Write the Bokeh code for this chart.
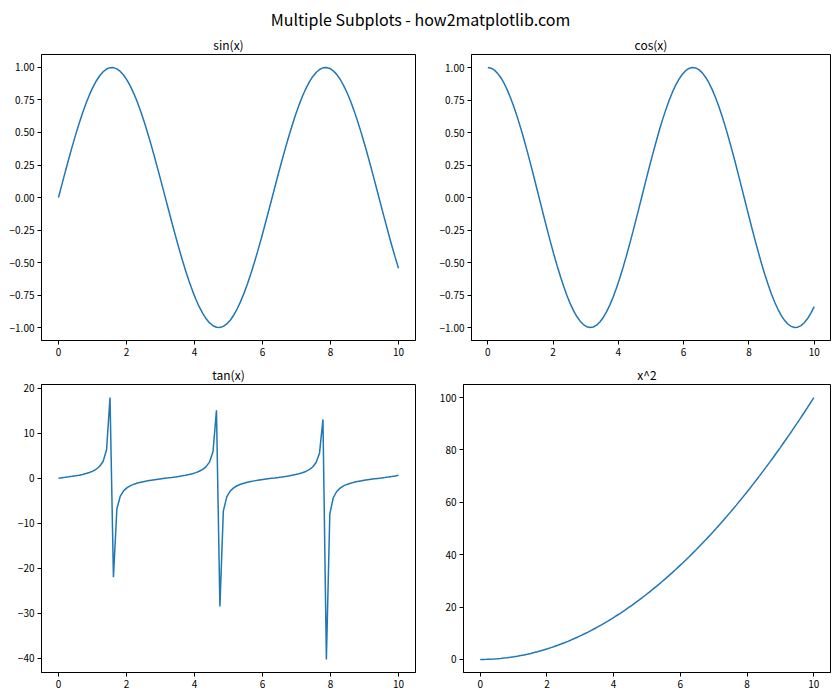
from bokeh.plotting import figure
from bokeh.layouts import column, row
from bokeh.models import FixedTicker, Range1d
from bokeh.embed import file_html
from bokeh.resources import INLINE

FONT = "Noto Sans CJK SC"
BLUE = "#1f77b4"

suptitle = "Multiple Subplots - how2matplotlib.com"
titles = ["sin(x)", "cos(x)", "tan(x)", "x^2"]

x = [0.000, 0.101, 0.202, 0.303, 0.404, 0.505, 0.606, 0.707, 0.808, 0.909,
     1.010, 1.111, 1.212, 1.313, 1.414, 1.515, 1.616, 1.717, 1.818, 1.919,
     2.020, 2.121, 2.222, 2.323, 2.424, 2.525, 2.626, 2.727, 2.828, 2.929,
     3.030, 3.131, 3.232, 3.333, 3.434, 3.535, 3.636, 3.737, 3.838, 3.939,
     4.040, 4.141, 4.242, 4.343, 4.444, 4.545, 4.646, 4.747, 4.848, 4.949,
     5.051, 5.152, 5.253, 5.354, 5.455, 5.556, 5.657, 5.758, 5.859, 5.960,
     6.061, 6.162, 6.263, 6.364, 6.465, 6.566, 6.667, 6.768, 6.869, 6.970,
     7.071, 7.172, 7.273, 7.374, 7.475, 7.576, 7.677, 7.778, 7.879, 7.980,
     8.081, 8.182, 8.283, 8.384, 8.485, 8.586, 8.687, 8.788, 8.889, 8.990,
     9.091, 9.192, 9.293, 9.394, 9.495, 9.596, 9.697, 9.798, 9.899, 10.000]

sin_y = [0.0, 0.1008, 0.2006, 0.2984, 0.3931, 0.4838, 0.5696, 0.6496, 0.7229, 0.7889,
         0.8468, 0.8961, 0.9363, 0.9670, 0.9878, 0.9985, 0.9990, 0.9893, 0.9696, 0.9400,
         0.9008, 0.8524, 0.7953, 0.7301, 0.6574, 0.5780, 0.4927, 0.4026, 0.3082, 0.2107,
         0.1111, 0.0103, -0.0906, -0.1906, -0.2886, -0.3837, -0.4749, -0.5611, -0.6417, -0.7158,
         -0.7827, -0.8414, -0.8915, -0.9325, -0.9643, -0.9862, -0.9978, -0.9994, -0.9909, -0.9720,
         -0.9434, -0.9050, -0.8573, -0.8007, -0.7370, -0.6643, -0.5860, -0.5018, -0.4123, -0.3185,
         -0.2207, -0.1213, -0.0206, 0.0804, 0.1805, 0.2787, 0.3741, 0.4657, 0.5525, 0.6338,
         0.7086, 0.7762, 0.8359, 0.8869, 0.9288, 0.9614, 0.9842, 0.9971, 0.9997, 0.9922,
         0.9746, 0.9468, 0.9094, 0.8627, 0.8072, 0.7442, 0.6720, 0.5943, 0.5106, 0.4217,
         0.3283, 0.2307, 0.1314, 0.0308, -0.0701, -0.1703, -0.2688, -0.3646, -0.4566, -0.5440]

cos_y = [1.0, 0.9949, 0.9797, 0.9544, 0.9195, 0.8752, 0.8219, 0.7603, 0.6909, 0.6145,
         0.5319, 0.4439, 0.3513, 0.2550, 0.1559, 0.0555, -0.0454, -0.1458, -0.2449, -0.3413,
         -0.4342, -0.5228, -0.6062, -0.6834, -0.7536, -0.8161, -0.8702, -0.9154, -0.9512, -0.9774,
         -0.9938, -0.9999, -0.9959, -0.9817, -0.9574, -0.9235, -0.8800, -0.8277, -0.7670, -0.6983,
         -0.6224, -0.5404, -0.4530, -0.3606, -0.2648, -0.1662, -0.0659, 0.0350, 0.1356, 0.2350,
         0.3316, 0.4253, 0.5149, 0.5991, 0.6759, 0.7474, 0.8103, 0.8650, 0.9111, 0.9479,
         0.9753, 0.9926, 0.9998, 0.9968, 0.9836, 0.9604, 0.9274, 0.8849, 0.8335, 0.7735,
         0.7056, 0.6305, 0.5489, 0.4620, 0.3706, 0.2748, 0.1763, 0.0761, -0.0248, -0.1254,
         -0.2249, -0.3218, -0.4158, -0.5057, -0.5904, -0.6680, -0.7405, -0.8042, -0.8598, -0.9067,
         -0.9446, -0.9730, -0.9913, -0.9995, -0.9975, -0.9854, -0.9632, -0.9312, -0.8897, -0.8391]

tan_y = [0.0, 0.1013, 0.2048, 0.3127, 0.4275, 0.5528, 0.6930, 0.8544, 1.0463, 1.2838,
         1.5920, 2.0187, 2.6652, 3.7922, 6.3363, 17.95, -22.03, -6.785, -3.959, -2.754,
         -2.075, -1.630, -1.312, -1.068, -0.8723, -0.7082, -0.5662, -0.4398, -0.3243, -0.2164,
         -0.1118, -0.0103, 0.0910, 0.1942, 0.3014, 0.4155, 0.5397, 0.6779, 0.8366, 1.0250,
         1.2576, 1.5570, 1.9680, 2.5817, 3.6416, 5.934, 15.14, -28.50, -7.308, -4.136,
         -2.845, -2.128, -1.665, -1.3365, -1.0884, -0.8888, -0.7232, -0.5801, -0.4525, -0.3360,
         -0.2263, -0.1222, -0.0206, 0.0807, 0.1835, 0.2902, 0.4034, 0.5263, 0.6629, 0.8194,
         1.0043, 1.2311, 1.5229, 1.9197, 2.5062, 3.4985, 5.583, 13.10, -40.30, -7.912,
         -4.333, -2.942, -2.187, -1.706, -1.367, -1.114, -0.9075, -0.7390, -0.5939, -0.4651,
         -0.3476, -0.2371, -0.1326, -0.0308, 0.0703, 0.1728, 0.2791, 0.3915, 0.5132, 0.6484]

sq_y = [0.0, 0.0102, 0.0408, 0.0918, 0.1632, 0.2551, 0.3673, 0.4999, 0.6530, 0.8264,
        1.0203, 1.2346, 1.4692, 1.7243, 1.9998, 2.2957, 2.6120, 2.9487, 3.3058, 3.6833,
        4.0812, 4.4995, 4.9383, 5.3974, 5.8769, 6.3769, 6.8973, 7.4380, 7.9992, 8.5808,
        9.1827, 9.8051, 10.448, 11.111, 11.795, 12.499, 13.223, 13.968, 14.733, 15.519,
        16.325, 17.151, 17.998, 18.865, 19.753, 20.661, 21.590, 22.539, 23.508, 24.498,
        25.508, 26.539, 27.590, 28.661, 29.752, 30.864, 31.997, 33.150, 34.323, 35.517,
        36.731, 37.965, 39.220, 40.496, 41.792, 43.108, 44.444, 45.801, 47.179, 48.577,
        49.995, 51.434, 52.893, 54.372, 55.872, 57.392, 58.933, 60.494, 62.075, 63.677,
        65.299, 66.942, 68.605, 70.289, 71.993, 73.717, 75.462, 77.227, 79.012, 80.818,
        82.645, 84.491, 86.358, 88.246, 90.154, 92.082, 94.031, 96.000, 97.990, 100.0]

x_ticks = [0, 2, 4, 6, 8, 10]
x_tick_labels = ["0", "2", "4", "6", "8", "10"]
trig_ticks = [-1.0, -0.75, -0.5, -0.25, 0.0, 0.25, 0.5, 0.75, 1.0]
trig_tick_labels = ["\u22121.00", "\u22120.75", "\u22120.50", "\u22120.25", "0.00",
                    "0.25", "0.50", "0.75", "1.00"]
tan_ticks = [-40, -30, -20, -10, 0, 10, 20]
tan_tick_labels = ["\u221240", "\u221230", "\u221220", "\u221210", "0", "10", "20"]
sq_ticks = [0, 20, 40, 60, 80, 100]
sq_tick_labels = ["0", "20", "40", "60", "80", "100"]


def padded(lo, hi, frac=0.05):
    span = hi - lo
    return Range1d(lo - frac * span, hi + frac * span)


def panel(title, ys, yticks, ylabels, width, height, bl, br, bt, bb):
    p = figure(width=width, height=height, output_backend="svg", toolbar_location=None,
               x_range=padded(min(x), max(x)), y_range=padded(min(ys), max(ys)),
               min_border_left=bl, min_border_right=br,
               min_border_top=bt, min_border_bottom=bb)
    p.title.text = title
    p.title.align = "center"
    p.title.text_font = FONT
    p.title.text_font_size = "12px"
    p.title.text_font_style = "normal"
    p.title.text_color = "black"
    p.title.standoff = 3
    p.title.offset = 0
    p.grid.visible = False
    p.outline_line_color = "black"
    p.outline_line_alpha = 1
    p.outline_line_width = 1
    p.background_fill_color = "white"
    p.border_fill_color = "white"
    for ax in (p.xaxis[0], p.yaxis[0]):
        ax.major_tick_out = 4
        ax.major_tick_in = 0
        ax.minor_tick_out = 0
        ax.minor_tick_in = 0
        ax.major_tick_line_color = "black"
        ax.axis_line_color = "black"
        ax.major_label_text_font = FONT
        ax.major_label_text_font_size = "10px"
        ax.major_label_text_color = "black"
        ax.major_label_standoff = 3
    p.xaxis.ticker = FixedTicker(ticks=x_ticks)
    p.xaxis.major_label_overrides = dict(zip(x_ticks, x_tick_labels))
    p.yaxis.ticker = FixedTicker(ticks=yticks)
    p.yaxis.major_label_overrides = dict(zip(yticks, ylabels))
    p.line(x, ys, line_color=BLUE, line_width=1.5)
    return p


# title strip: the figure title carries the suptitle, with a 1px empty frame below it
t = figure(width=840, height=32, output_backend="svg", toolbar_location=None,
           x_range=Range1d(0, 1), y_range=Range1d(0, 1),
           min_border_left=0, min_border_right=0, min_border_top=31, min_border_bottom=0)
t.axis.visible = False
t.grid.visible = False
t.outline_line_color = None
t.title.text = suptitle
t.title.align = "center"
t.title.text_font = FONT
t.title.text_font_size = "16px"
t.title.text_font_style = "normal"
t.title.text_color = "black"
t.title.standoff = 1
t.title.offset = 0

p1 = panel(titles[0], sin_y, trig_ticks, trig_tick_labels, 436, 330, 41, 21, 20, 22)
p2 = panel(titles[1], cos_y, trig_ticks, trig_tick_labels, 404, 330, 20, 10, 20, 22)
p3 = panel(titles[2], tan_y, tan_ticks, tan_tick_labels, 436, 338, 41, 21, 22, 28)
p4 = panel(titles[3], sq_y, sq_ticks, sq_tick_labels, 404, 338, 20, 10, 22, 28)

layout = column(t, row(p1, p2, spacing=0), row(p3, p4, spacing=0), spacing=0)

open("out.html", "w").write(file_html(layout, INLINE))
